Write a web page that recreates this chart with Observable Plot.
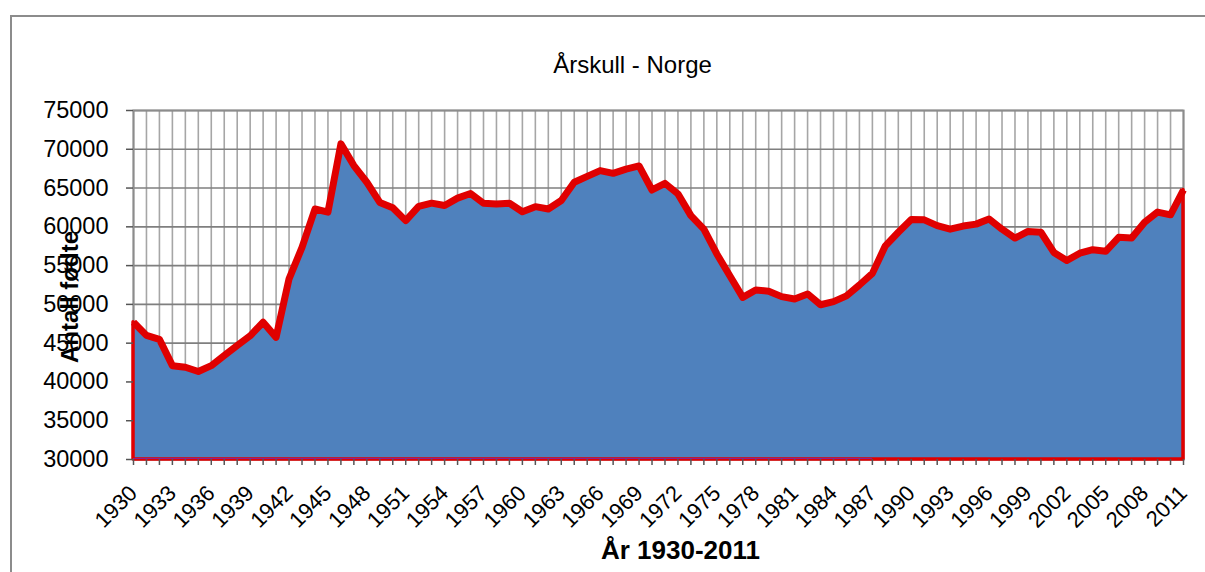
<!DOCTYPE html>
<html>
<head>
<meta charset="utf-8">
<script src="https://cdn.jsdelivr.net/npm/d3@7"></script>
<script src="https://cdn.jsdelivr.net/npm/@observablehq/plot@0.6"></script>
<style>
  html, body { margin: 0; padding: 0; background: #fff; }
  #wrap { position: relative; width: 1205px; height: 572px; overflow: hidden; }
  #border { position: absolute; left: 10px; top: 15px; width: 1300px; height: 700px;
            border-left: 2px solid #8c8c8c; border-top: 2px solid #8c8c8c; }
  #chart { position: absolute; left: 0; top: 0; }
</style>
</head>
<body>
<div id="wrap"><div id="border"></div><div id="chart"></div></div>
<script>
const title = "Årskull - Norge";
const xLabel = "År 1930-2011";
const yLabel = "Antall fødte";
const firstYear = 1930;
const births = [
  47700, 46000, 45500, 42100, 41900, 41350, 42100, 43400, 44700, 45950,
  47700, 45750, 53300, 57350, 62300, 61900, 70700, 67900, 65750, 63150,
  62450, 60800, 62650, 63050, 62750, 63700, 64300, 63050, 62950, 63050,
  61950, 62600, 62300, 63400, 65750, 66500, 67250, 66900, 67450, 67850,
  64750, 65600, 64250, 61450, 59700, 56500, 53700, 50900, 51850, 51700,
  51000, 50700, 51350, 49950, 50350, 51100, 52500, 54000, 57550, 59300,
  60950, 60900, 60150, 59700, 60100, 60350, 61000, 59700, 58550, 59400,
  59300, 56700, 55650, 56600, 57050, 56850, 58650, 58550, 60600, 61900,
  61550, 64750
];
const years = births.map((_, i) => firstYear + i);
const xTickLabels = [1930,1933,1936,1939,1942,1945,1948,1951,1954,1957,1960,1963,1966,1969,
  1972,1975,1978,1981,1984,1987,1990,1993,1996,1999,2002,2005,2008,2011];
const yTicks = [30000,35000,40000,45000,50000,55000,60000,65000,70000,75000];

const data = years.map((year, i) => ({year, births: births[i]}));
const labelSet = new Set(xTickLabels);

const chart = Plot.plot({
  width: 1205,
  height: 572,
  marginLeft: 133,
  marginRight: 22,
  marginTop: 110,
  marginBottom: 113,
  style: {fontFamily: "'Liberation Sans', Arial, sans-serif", color: "#000", background: "transparent"},
  x: {type: "linear", domain: [1930, 2011]},
  y: {domain: [30000, 75000]},
  marks: [
    Plot.gridX(years, {stroke: "#a6a6a6", strokeOpacity: 1, strokeWidth: 1.6}),
    Plot.gridY(yTicks, {stroke: "#7f7f7f", strokeOpacity: 1, strokeWidth: 1.6}),
    Plot.frame({stroke: "#8c8c8c", strokeWidth: 2}),
    Plot.areaY(data, {x: "year", y1: 30000, y2: "births", fill: "#4f81bd", stroke: "#e00000", strokeWidth: 3.5}),
    Plot.ruleY([30000], {x1: 1930, x2: 1987, stroke: "#8a2090", strokeWidth: 1.2, dy: -1}),
    Plot.lineY(data, {x: "year", y: "births", stroke: "#e00000", strokeWidth: 7, strokeLinejoin: "round", strokeLinecap: "butt"}),
    Plot.axisY(yTicks, {tickSize: 7, tickPadding: 18, fontSize: 23.5, label: null, tickFormat: d => String(d), stroke: "#555", strokeWidth: 1.5}),
    Plot.axisX(years, {tickSize: 6, tickPadding: 24, fontSize: 22, label: null, tickRotate: -45,
      tickFormat: d => labelSet.has(d) ? String(d) : "", stroke: "#555", strokeWidth: 1.5}),
    Plot.text([title], {frameAnchor: "top", dy: -55, dx: -26, fontSize: 24, fill: "#000"}),
    Plot.text([xLabel], {frameAnchor: "bottom", dy: 99, dx: 22, fontSize: 26, fontWeight: "bold", fill: "#000"}),
    Plot.text([yLabel], {frameAnchor: "left", textAnchor: "middle", dx: -63, dy: 12, rotate: -90, fontSize: 24, fontWeight: "bold", fill: "#000"})
  ]
});
document.getElementById("chart").appendChild(chart);
</script>
</body>
</html>
